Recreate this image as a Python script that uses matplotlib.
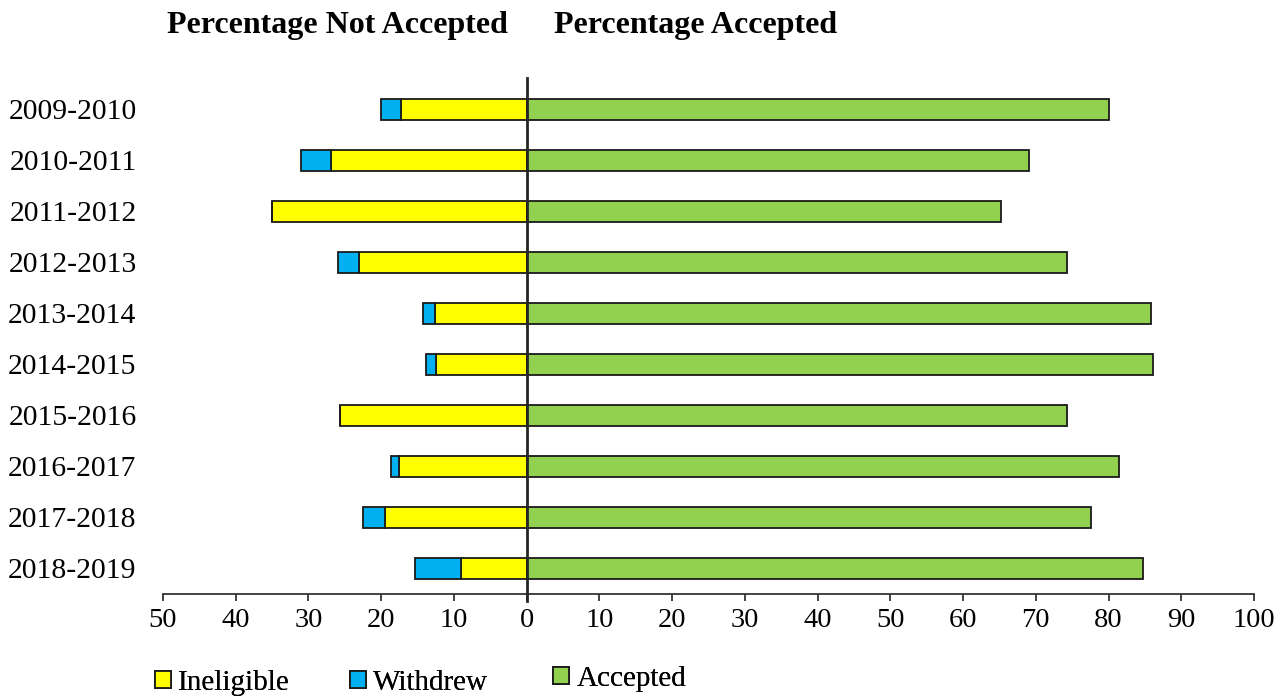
import matplotlib
matplotlib.use('Agg')
import matplotlib.pyplot as plt
from matplotlib.patches import Patch
import numpy as np

# acceptance shares per school year (percent)
years = ['2009-2010', '2010-2011', '2011-2012', '2012-2013', '2013-2014',
         '2014-2015', '2015-2016', '2016-2017', '2017-2018', '2018-2019']
ineligible = [17.3, 26.9, 35.0, 23.1, 12.6, 12.5, 25.7, 17.5, 19.5, 9.0]
withdrew = [2.7, 4.1, 0.0, 2.9, 1.6, 1.4, 0.0, 1.1, 3.0, 6.3]
accepted = [80.0, 69.1, 65.2, 74.3, 85.9, 86.1, 74.3, 81.4, 77.6, 84.7]

c_inel = '#FFFF00'
c_with = '#00B0F0'
c_acc = '#92D050'
edge = '#1a1a1a'

plt.rcParams['font.family'] = ['Liberation Serif', 'DejaVu Serif']

fig = plt.figure(figsize=(12.84, 6.96), dpi=100)
ax = fig.add_axes([163 / 1284, 1 - 594 / 696, (1254 - 163) / 1284, (594 - 84) / 696])

y = np.arange(len(years))
h = 0.4
inel = np.array(ineligible)
wd = np.array(withdrew)

# not accepted goes to the left of zero
ax.barh(y, -inel, height=h, color=c_inel, edgecolor=edge, linewidth=1.3)
ax.barh(y, -wd, left=-inel, height=h, color=c_with, edgecolor=edge, linewidth=1.3)
ax.barh(y, accepted, height=h, color=c_acc, edgecolor=edge, linewidth=1.3)

ax.set_xlim(-50, 100)
ax.set_ylim(len(years) - 0.5, -0.5)

ticks = np.arange(-50, 101, 10)
ax.set_xticks(ticks)
ax.set_xticklabels([str(abs(t)) for t in ticks], fontsize=20.5)
ax.set_yticks(y)
ax.set_yticklabels(years, fontsize=21.3)
ax.tick_params(axis='y', length=0, pad=19)
ax.tick_params(axis='x', length=5, width=1.3, color='#333333', pad=5, direction='out')

for s in ['top', 'right', 'left']:
    ax.spines[s].set_visible(False)
ax.spines['bottom'].set_color('#333333')
ax.spines['bottom'].set_linewidth(1.3)

# zero divider between the two halves
ax.axvline(0, ymin=-0.014, ymax=1.012, color='#262626', lw=2, clip_on=False, zorder=5)

fig.text(167 / 1284, 1 - 25 / 696, 'Percentage Not Accepted', fontsize=23,
         fontweight='bold', va='center', ha='left')
fig.text(554 / 1284, 1 - 25 / 696, 'Percentage Accepted', fontsize=23,
         fontweight='bold', va='center', ha='left')

legend_items = [('Ineligible', c_inel, 155, 683),
                ('Withdrew', c_with, 350, 683),
                ('Accepted', c_acc, 553, 679)]
for label, col, px, py in legend_items:
    leg = fig.legend(handles=[Patch(facecolor=col, edgecolor=edge, linewidth=1.3, label=label)],
                     loc='center left', bbox_to_anchor=(px / 1284, 1 - py / 696),
                     frameon=False, fontsize=21, borderpad=0, borderaxespad=0,
                     handlelength=0.55, handleheight=0.55, handletextpad=0.25)
    fig.add_artist(leg)

fig.savefig('out.png', dpi=100)
